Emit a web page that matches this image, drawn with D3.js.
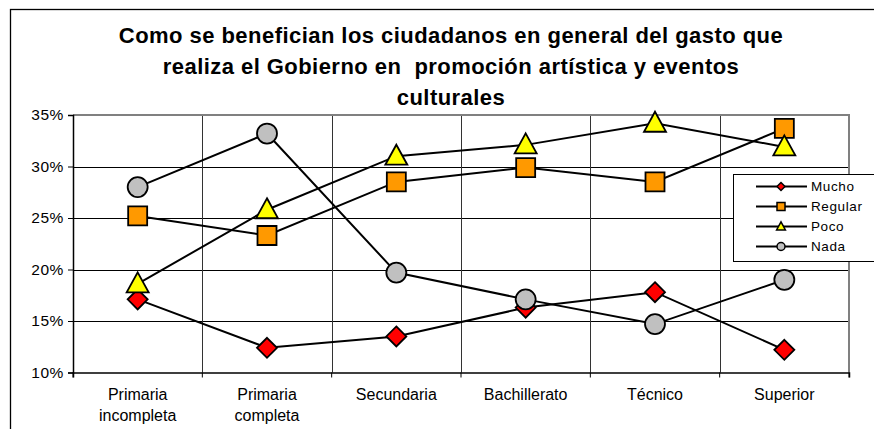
<!DOCTYPE html>
<html>
<head>
<meta charset="utf-8">
<script src="https://cdn.jsdelivr.net/npm/d3@7"></script>
<style>
  body { margin: 0; background: #fff; }
  svg { display: block; font-family: 'Liberation Sans', Arial, sans-serif; }
</style>
</head>
<body>
<svg width="874" height="429"></svg>
<script>
(function (d3) {
  'use strict';

  const categories = [
    ['Primaria', 'incompleta'],
    ['Primaria', 'completa'],
    ['Secundaria'],
    ['Bachillerato'],
    ['Técnico'],
    ['Superior']
  ];
  const mucho   = [17.1, 12.4, 13.5, 16.3, 17.8, 12.2];
  const regular = [25.2, 23.3, 28.5, 29.9, 28.5, 33.7];
  const poco    = [18.6, 25.8, 31.0, 32.1, 34.2, 31.9];
  const nada    = [28.0, 33.2, 19.7, 17.1, 14.7, 19.0];
  const yTicks  = [10, 15, 20, 25, 30, 35];
  const titleLines = [
    'Como se benefician los ciudadanos en general del gasto que',
    'realiza el Gobierno en\u00a0 promoción artística y eventos',
    'culturales'
  ];

  const series = [
    { name: 'Mucho', values: mucho, shape: 'diamond', fill: '#ff0000' },
    { name: 'Regular', values: regular, shape: 'square', fill: '#ff9900' },
    { name: 'Poco', values: poco, shape: 'triangle', fill: '#ffff00' },
    { name: 'Nada', values: nada, shape: 'circle', fill: '#c0c0c0' }
  ];

  const svg = d3.select('svg');
  const margin = { left: 73, right: 849, top: 115, bottom: 372.5 };

  // outer chart frame
  svg.append('rect')
    .attr('x', 10.5).attr('y', 9.5)
    .attr('width', 880).attr('height', 440)
    .attr('fill', 'none').attr('stroke', '#000').attr('stroke-width', 1.3);

  svg.append('g')
    .selectAll('text')
    .data(titleLines)
    .enter().append('text')
      .attr('x', 451)
      .attr('y', (d, i) => 43 + i * 31)
      .attr('text-anchor', 'middle')
      .attr('font-size', 22)
      .attr('letter-spacing', 0.45)
      .attr('font-weight', 'bold')
      .text(d => d);

  const x = d3.scaleBand()
    .domain(categories.map((d, i) => i))
    .range([margin.left, margin.right]);

  const y = d3.scaleLinear()
    .domain([10, 35])
    .range([margin.bottom, margin.top]);

  const cx = i => x(i) + x.bandwidth() / 2;

  // horizontal grid
  svg.append('g')
    .selectAll('line')
    .data(yTicks.slice(1, -1))
    .enter().append('line')
      .attr('x1', margin.left).attr('x2', margin.right)
      .attr('y1', d => Math.round(y(d)) + 0.5)
      .attr('y2', d => Math.round(y(d)) + 0.5)
      .attr('stroke', '#000').attr('stroke-width', 1);

  // vertical grid
  svg.append('g')
    .selectAll('line')
    .data(categories.slice(1).map((d, i) => i + 1))
    .enter().append('line')
      .attr('x1', d => Math.round(x(d)) + 0.5)
      .attr('x2', d => Math.round(x(d)) + 0.5)
      .attr('y1', margin.top).attr('y2', margin.bottom)
      .attr('stroke', '#333').attr('stroke-width', 1);

  // plot border top/right
  svg.append('path')
    .attr('d', `M${margin.left},${margin.top}H${margin.right}V${margin.bottom}`)
    .attr('fill', 'none').attr('stroke', '#808080').attr('stroke-width', 2);

  // y axis
  const yAxis = svg.append('g')
    .attr('transform', `translate(${margin.left},0)`)
    .call(d3.axisLeft(y).tickValues(yTicks).tickSize(5).tickFormat(d => d + '%'));
  yAxis.select('.domain').attr('stroke', '#000').attr('stroke-width', 1.5);
  yAxis.selectAll('text')
    .attr('font-size', 15.5).attr('letter-spacing', 0.6)
    .attr('font-family', 'Liberation Sans, Arial, sans-serif')
    .attr('fill', '#000').attr('dx', '-1');

  // x axis
  const xAxis = svg.append('g')
    .attr('transform', `translate(0,${margin.bottom})`)
    .call(d3.axisBottom(x).tickSize(5).tickFormat(''));
  xAxis.select('.domain').attr('stroke', '#000').attr('stroke-width', 1.5);
  xAxis.selectAll('.tick line').attr('transform', `translate(${-x.bandwidth() / 2},0)`);
  svg.append('line')
    .attr('x1', margin.right).attr('x2', margin.right)
    .attr('y1', margin.bottom).attr('y2', margin.bottom + 5)
    .attr('stroke', '#000');

  svg.append('g')
    .selectAll('text')
    .data(categories)
    .enter().append('text')
      .attr('x', (d, i) => cx(i))
      .attr('y', 400)
      .attr('text-anchor', 'middle')
      .attr('font-size', 16)
      .selectAll('tspan')
      .data(d => d)
      .enter().append('tspan')
        .attr('x', function () { return d3.select(this.parentNode).attr('x'); })
        .attr('dy', (d, i) => i === 0 ? 0 : 21)
        .text(d => d);

  const symbolPath = (shape, s) => {
    if (shape === 'diamond') return `M0,${-s}L${s},0L0,${s}L${-s},0Z`;
    if (shape === 'square') return `M${-s},${-s}H${s}V${s}H${-s}Z`;
    if (shape === 'triangle') return `M0,${-s * 1.15}L${s * 1.1},${s * 0.85}H${-s * 1.1}Z`;
    return d3.arc()({ innerRadius: 0, outerRadius: s, startAngle: 0, endAngle: 2 * Math.PI });
  };
  const markerSize = { diamond: 10, square: 9.5, triangle: 10, circle: 10 };

  const line = d3.line()
    .x((d, i) => cx(i))
    .y(d => y(d));

  series.forEach(s => {
    svg.append('path')
      .attr('d', line(s.values))
      .attr('fill', 'none').attr('stroke', '#000').attr('stroke-width', 2);
  });

  series.forEach(s => {
    svg.append('g')
      .selectAll('path')
      .data(s.values)
      .enter().append('path')
        .attr('transform', (d, i) => `translate(${cx(i)},${y(d)})`)
        .attr('d', symbolPath(s.shape, markerSize[s.shape]))
        .attr('fill', s.fill)
        .attr('stroke', '#000').attr('stroke-width', 1.8);
  });

  // legend
  const legend = svg.append('g').attr('transform', 'translate(733,174)');
  legend.append('rect')
    .attr('x', 0.5).attr('y', 0.5)
    .attr('width', 150).attr('height', 87)
    .attr('fill', '#fff').attr('stroke', '#000').attr('stroke-width', 1);

  const items = legend.selectAll('.item')
    .data(series)
    .enter().append('g')
      .attr('class', 'item')
      .attr('transform', (d, i) => `translate(0,${12.5 + i * 20})`);
  items.append('line')
    .attr('x1', 23).attr('x2', 74)
    .attr('stroke', '#000').attr('stroke-width', 2);
  items.append('path')
    .attr('transform', 'translate(48,0)')
    .attr('d', d => symbolPath(d.shape, 4))
    .attr('fill', d => d.fill)
    .attr('stroke', '#000').attr('stroke-width', 1.5);
  items.append('text')
    .attr('x', 78).attr('dy', '0.36em')
    .attr('font-size', 13.5).attr('letter-spacing', 0.6)
    .text(d => d.name);

}(d3));
</script>
</body>
</html>
